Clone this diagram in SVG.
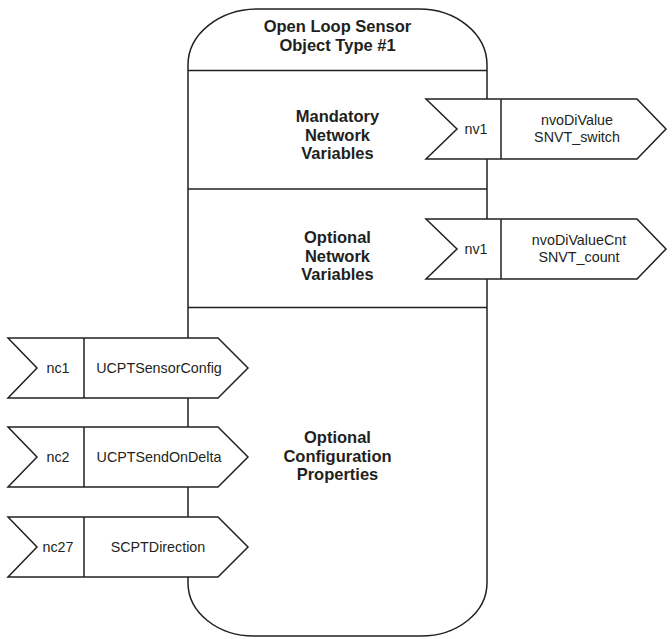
<svg xmlns="http://www.w3.org/2000/svg" width="672" height="639" viewBox="0 0 672 639">
<style>
.ln{fill:none;stroke:#231f20;stroke-width:1.5}
.bx{fill:#fff;stroke:#231f20;stroke-width:1.5;stroke-linejoin:miter}
.h{font-family:"Liberation Sans",Arial,sans-serif;font-weight:bold;font-size:16.5px;fill:#231f20;text-anchor:middle}
.t{font-family:"Liberation Sans",Arial,sans-serif;font-size:14.3px;fill:#231f20;text-anchor:middle}
</style>
<rect width="672" height="639" fill="#fff"/>
<g id="object">
<path class="bx" d="M 258 9 H 419 A 68 56 0 0 1 487 65 V 583 A 66 53 0 0 1 421 636 H 254 A 66 53 0 0 1 188 583 V 65 A 70 56 0 0 1 258 9 Z"/>
<line class="ln" x1="188" y1="70.5" x2="487" y2="70.5"/>
<line class="ln" x1="188" y1="189" x2="487" y2="189"/>
<line class="ln" x1="188" y1="307.5" x2="487" y2="307.5"/>
<text class="h" x="337.5" y="32">Open Loop Sensor</text>
<text class="h" x="337.5" y="50.5">Object Type #1</text>
<text class="h" x="337.5" y="122">Mandatory</text>
<text class="h" x="337.5" y="140.5">Network</text>
<text class="h" x="337.5" y="159">Variables</text>
<text class="h" x="337.5" y="243">Optional</text>
<text class="h" x="337.5" y="261.5">Network</text>
<text class="h" x="337.5" y="280">Variables</text>
<text class="h" x="337.5" y="443">Optional</text>
<text class="h" x="337.5" y="461.5">Configuration</text>
<text class="h" x="337.5" y="480">Properties</text>
</g>
<g id="connectors"></g>
<g id="nv1-nvoDiValue">
<polygon class="bx" points="426,99 637,99 666,129 637,159 426,159 457,129"/>
<line class="ln" x1="501" y1="99" x2="501" y2="159"/>
<text class="t" x="476" y="134">nv1</text>
<text class="t" x="577" y="125">nvoDiValue</text>
<text class="t" x="577" y="142">SNVT_switch</text>
</g>
<g id="nv1-nvoDiValueCnt">
<polygon class="bx" points="426,219 637,219 666,249 637,279 426,279 457,249"/>
<line class="ln" x1="501" y1="219" x2="501" y2="279"/>
<text class="t" x="476" y="254">nv1</text>
<text class="t" x="579" y="245">nvoDiValueCnt</text>
<text class="t" x="579" y="262">SNVT_count</text>
</g>
<g id="nc1">
<polygon class="bx" points="8,338 218,338 248,368 218,398 8,398 37,368"/>
<line class="ln" x1="84" y1="338" x2="84" y2="398"/>
<text class="t" x="58" y="373">nc1</text>
<text class="t" x="159" y="373">UCPTSensorConfig</text>
</g>
<g id="nc2">
<polygon class="bx" points="8,427 218,427 248,457 218,487 8,487 37,457"/>
<line class="ln" x1="84" y1="427" x2="84" y2="487"/>
<text class="t" x="58" y="462">nc2</text>
<text class="t" x="159" y="462">UCPTSendOnDelta</text>
</g>
<g id="nc27">
<polygon class="bx" points="8,517 218,517 248,547 218,577 8,577 37,547"/>
<line class="ln" x1="84" y1="517" x2="84" y2="577"/>
<text class="t" x="58" y="552">nc27</text>
<text class="t" x="158" y="552">SCPTDirection</text>
</g>
</svg>
